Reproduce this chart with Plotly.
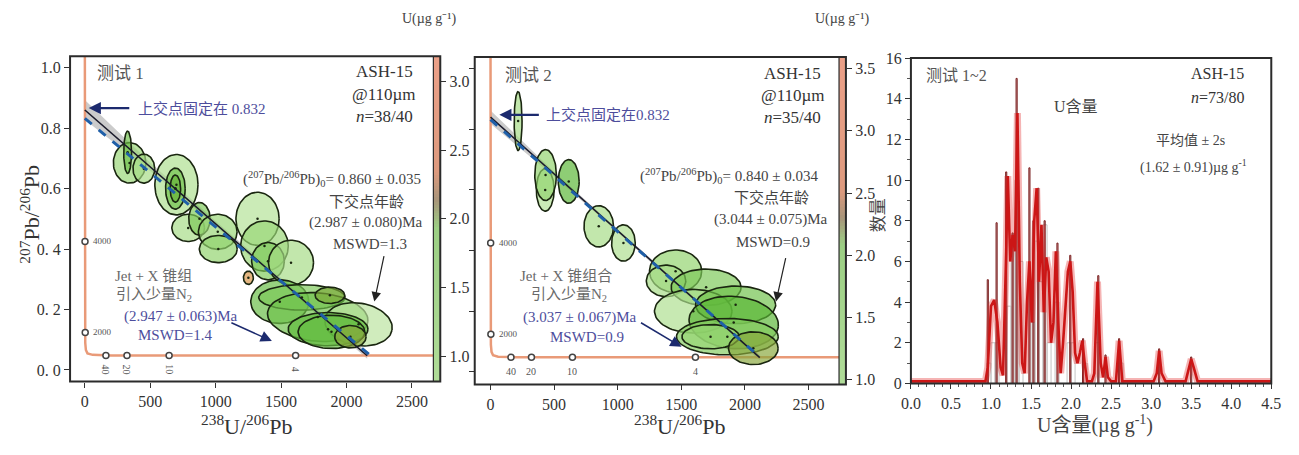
import numpy as np
import plotly.graph_objects as go
from plotly.colors import sample_colorscale

W, H = 1299, 455
def fx(p): return p / W
def fy(p): return 1 - p / H

SERIF = "Liberation Serif, 'Noto Sans CJK SC', serif"

# ---------------- data: test 1 (left panel) ----------------
t1_cx = [342, 327, 451, 700, 692, 692, 790, 876, 1016, 1020, 1320, 1373, 1400, 1576,
         1250, 1490, 1659, 1780, 2092, 1859, 1885, 1873, 2030]
t1_cy = [0.685, 0.72, 0.666, 0.613, 0.60, 0.60, 0.47, 0.50, 0.457, 0.40, 0.50, 0.41, 0.36, 0.355,
         0.305, 0.226, 0.24, 0.175, 0.151, 0.135, 0.126, 0.247, 0.11]
t1_rx = [124, 30, 83, 165, 75, 40, 125, 82, 148, 145, 165, 182, 125, 172,
         38, 222, 330, 385, 260, 305, 255, 113, 120]
t1_ry = [0.067, 0.07, 0.048, 0.10, 0.068, 0.045, 0.045, 0.054, 0.058, 0.045, 0.088, 0.083, 0.062, 0.074,
         0.022, 0.072, 0.042, 0.08, 0.07, 0.055, 0.055, 0.027, 0.037]
t1_ang = [0, 0, 0, 0, 0, 0, 0, 0, 0, 0, 0, 0, 0, 0,
          0, 0, 0, -5, -10, 0, 0, 0, 0]
t1_U = [1.3, 1.6, 1.2, 1.15, 1.6, 1.8, 1.2, 1.5, 1.3, 1.35, 1.1, 1.3, 1.5, 1.2,
        2.4, 1.65, 1.5, 1.6, 1.05, 1.7, 1.65, 1.9, 1.95]

# ---------------- data: test 2 (middle panel) ----------------
t2_cx = [217, 430, 433, 615, 851, 1045, 1455, 1380, 1695, 1594, 1927, 1912, 1862, 1730, 2066]
t2_cy = [0.827, 0.60, 0.649, 0.628, 0.48, 0.425, 0.332, 0.30, 0.279, 0.20, 0.221, 0.163, 0.116, 0.116, 0.078]
t2_rx = [31, 70, 85, 82, 116, 93, 205, 155, 275, 305, 315, 352, 400, 225, 195]
t2_ry = [0.097, 0.07, 0.084, 0.072, 0.068, 0.06, 0.07, 0.052, 0.06, 0.072, 0.062, 0.086, 0.06, 0.04, 0.054]
t2_ang = [0, 0, 0, 0, 0, 0, 0, 0, 0, 0, 0, -5, 0, 0, 0]
t2_U = [1.2, 1.1, 1.35, 1.75, 1.2, 1.15, 1.35, 1.2, 1.5, 1.15, 1.6, 1.75, 1.45, 1.3, 1.95]

# regression lines: (x0, x1), (y0, y1)
t1_free = ([0, 2158], [0.860, 0.047])
t1_fixed = ([0, 2187], [0.832, 0.0467])
t2_free = ([0, 2117], [0.840, 0.047])
t2_fixed = ([0, 2122], [0.832, 0.047])
t1_band_x = [0, 500, 1000, 2158, 2158, 1000, 500, 0]
t1_band_y = [0.893, 0.686, 0.493, 0.058, 0.037, 0.475, 0.658, 0.828]
t2_band_x = [0, 500, 1000, 2117, 2117, 1000, 500, 0]
t2_band_y = [0.862, 0.660, 0.470, 0.056, 0.038, 0.460, 0.644, 0.818]

# concordia (Tera-Wasserburg) trace and age markers
conc_x = [0, 0, 1, 3, 8, 20, 60, 200, 2800]
conc_y = [1.10, 0.25, 0.14, 0.09, 0.066, 0.055, 0.050, 0.048, 0.048]
age_top_lbl = ["4000", "2000"]
age_top_x = [1.2, 2.9]
age_top_y = [0.425, 0.124]
age_bot_lbl = ["40", "20", "10", "4"]
age_bot_x = [161, 322, 644, 1611]
age_bot_y = [0.048, 0.048, 0.048, 0.048]

# ---------------- data: U content histogram (right panel) ----------------
hist_x = [0.975, 1.025, 1.075, 1.225, 1.275, 1.325, 1.375, 1.525, 1.575, 1.625, 1.675, 1.725,
          1.825, 1.975, 2.025, 2.175, 2.325, 2.625]
hist_y = [1, 2, 2, 3.8, 7.3, 10, 6.0, 3, 7, 5, 7.8, 2, 4, 2, 2, 1, 2, 1]
spike_x = [0.96, 1.07, 1.19, 1.27, 1.32, 1.48, 1.53, 1.59, 1.67, 1.83, 1.99, 2.15, 2.34, 2.43, 2.60, 3.10, 3.50]
spike_y = [5.1, 7.9, 10.4, 7.4, 15.0, 10.6, 8.0, 9.6, 8.0, 6.9, 6.3, 2.2, 5.3, 1.4, 2.2, 1.7, 1.3]
kde_x = [0.00, 0.93, 0.96, 0.98, 1.00, 1.04, 1.08, 1.12, 1.15, 1.19,
         1.21, 1.24, 1.27, 1.30, 1.33, 1.36, 1.39, 1.42, 1.45, 1.48,
         1.51, 1.54, 1.57, 1.60, 1.63, 1.66, 1.69, 1.72, 1.75, 1.78,
         1.81, 1.84, 1.87, 1.90, 1.93, 1.96, 1.99, 2.02, 2.05, 2.08,
         2.11, 2.14, 2.17, 2.20, 2.26, 2.29, 2.33, 2.37, 2.40, 2.43,
         2.46, 2.50, 2.56, 2.60, 2.64, 2.70, 3.03, 3.07, 3.10, 3.13,
         3.18, 3.43, 3.47, 3.50, 3.53, 3.58, 4.50]
kde_y = [0.1, 0.1, 0.8, 2.5, 3.8, 4.1, 3.0, 0.8, 0.4, 6.5,
         10.2, 6.0, 7.3, 6.5, 13.3, 5.0, 1.0, 0.5, 4.0, 6.0,
         3.0, 8.0, 9.6, 5.0, 7.8, 3.5, 6.2, 5.5, 2.0, 3.0,
         6.5, 3.0, 0.5, 2.0, 4.0, 5.5, 6.0, 4.5, 1.5, 1.0,
         1.5, 2.1, 1.0, 0.1, 0.1, 0.5, 5.0, 1.0, 0.3, 1.3,
         0.3, 0.1, 0.1, 2.1, 0.1, 0.1, 0.1, 0.5, 1.6, 0.5,
         0.1, 0.1, 0.8, 1.2, 0.8, 0.1, 0.1]

# ---------------- geometry of panels (pixels) ----------------
P1 = dict(l=61, r=430, strip=437, t=50, b=388, xr=[-113, 2664], yr=[-0.0382, 1.0382], ur=[0.815, 3.185])
P2 = dict(l=472, r=842, strip=849, t=51, b=391, xr=[-124, 2740], yr=[-0.0413, 1.038], ur=[0.961, 3.593])
P3 = dict(l=915, r=1281, t=52, b=390)

ELL_SCALE = [[0, '#c0e6a6'], [0.25, '#8ed268'], [0.5, '#58b634'], [0.65, '#8ea43c'], [1, '#e89048']]

def ell_pts(cx, cy, rx, ry, ang, kx, ky, n=80):
    t = np.linspace(0, 2 * np.pi, n)
    a, b, th = rx * kx, ry * ky, np.radians(ang)
    X = a * np.cos(t) * np.cos(th) - b * np.sin(t) * np.sin(th)
    Y = a * np.cos(t) * np.sin(th) + b * np.sin(t) * np.cos(th)
    return cx + X / kx, cy + Y / ky

def rgba(c, a):
    c = c.replace('rgb(', '').replace(')', '')
    r, g, b = [int(float(v)) for v in c.split(',')]
    return f'rgba({r},{g},{b},{a})'

fig = go.Figure()

def add_concordia_panel(P, xa, ya, cx, cy, rx, ry, ang, U, free, fixed, bx, by):
    kx = (P['r'] - P['l']) / (P['xr'][1] - P['xr'][0])
    ky = (P['b'] - P['t']) / (P['yr'][1] - P['yr'][0])
    fig.add_trace(go.Scatter(x=bx, y=by, xaxis=xa, yaxis=ya, mode='lines', fill='toself',
                             fillcolor='rgba(190,190,190,0.8)', line=dict(width=0), hoverinfo='skip'))
    fig.add_trace(go.Scatter(x=conc_x, y=conc_y, xaxis=xa, yaxis=ya, mode='lines',
                             line=dict(color='#e99a78', width=2.5), hoverinfo='skip'))
    for i in range(len(cx)):
        ex, ey = ell_pts(cx[i], cy[i], rx[i], ry[i], ang[i], kx, ky)
        col = sample_colorscale(ELL_SCALE, [(U[i] - 1.0) / 1.5])[0]
        fig.add_trace(go.Scatter(x=ex, y=ey, xaxis=xa, yaxis=ya, mode='lines', fill='toself',
                                 fillcolor=rgba(col, 0.68), line=dict(color='#1a2610', width=1.6),
                                 hoverinfo='skip'))
    fig.add_trace(go.Scatter(x=cx, y=cy, xaxis=xa, yaxis=ya, mode='markers',
                             marker=dict(size=2.5, color='#1a2610'), hoverinfo='skip'))
    fig.add_trace(go.Scatter(x=free[0], y=free[1], xaxis=xa, yaxis=ya, mode='lines',
                             line=dict(color='#1a1a2a', width=1.6), hoverinfo='skip'))
    fig.add_trace(go.Scatter(x=fixed[0], y=fixed[1], xaxis=xa, yaxis=ya, mode='lines',
                             line=dict(color='#1f5fa8', width=3, dash='dash'), hoverinfo='skip'))
    fig.add_trace(go.Scatter(x=age_top_x + age_bot_x, y=age_top_y + age_bot_y, xaxis=xa, yaxis=ya,
                             mode='markers', marker=dict(size=6, color='white',
                                                         line=dict(color='#444', width=1.5)),
                             hoverinfo='skip'))

add_concordia_panel(P1, 'x', 'y', t1_cx, t1_cy, t1_rx, t1_ry, t1_ang, t1_U, t1_free, t1_fixed, t1_band_x, t1_band_y)
add_concordia_panel(P2, 'x2', 'y3', t2_cx, t2_cy, t2_rx, t2_ry, t2_ang, t2_U, t2_free, t2_fixed, t2_band_x, t2_band_y)

def add_strip(P, xa, ya, g_hi, o_lo):
    ys = list(np.linspace(P['ur'][0], P['ur'][1], 120))
    span = P['ur'][1] - P['ur'][0]
    a = (g_hi - P['ur'][0]) / span
    b = (o_lo - P['ur'][0]) / span
    scale = [[0, '#b0dc98'], [a, '#9ccf84'], [(a + b) / 2, '#a8957a'], [b, '#dd9a7e'], [1, '#eba088']]
    fig.add_trace(go.Heatmap(z=[[v] for v in ys], y=ys, x=[0], xaxis=xa, yaxis=ya,
                             colorscale=scale, zmin=P['ur'][0], zmax=P['ur'][1], showscale=False,
                             hoverinfo='skip'))

add_strip(P1, 'x4', 'y2', 1.93, 2.34)
add_strip(P2, 'x5', 'y4', 2.08, 2.52)

fig.add_trace(go.Bar(x=hist_x, y=hist_y, width=0.05, xaxis='x3', yaxis='y5',
                     marker=dict(color='rgba(255,255,255,0)', line=dict(color='#c4c4c4', width=1)),
                     hoverinfo='skip'))
fig.add_trace(go.Bar(x=spike_x, y=spike_y, width=0.014, xaxis='x3', yaxis='y5',
                     marker=dict(color='rgba(160,40,40,0.35)', line=dict(color='#7a2020', width=1)),
                     hoverinfo='skip'))
fig.add_trace(go.Scatter(x=kde_x, y=kde_y, xaxis='x3', yaxis='y5', mode='lines',
                         line=dict(color='rgba(225,40,40,0.35)', width=7), hoverinfo='skip'))
fig.add_trace(go.Scatter(x=kde_x, y=kde_y, xaxis='x3', yaxis='y5', mode='lines',
                         line=dict(color='#cc1616', width=2.6), hoverinfo='skip'))

tickfont = dict(family=SERIF, size=16, color='#333')
common = dict(showgrid=False, zeroline=False, showline=False, ticks='outside', ticklen=5,
              tickwidth=1.2, tickcolor='#333', tickfont=tickfont, fixedrange=True)

layout = dict(
    width=W, height=H, margin=dict(l=0, r=0, t=0, b=0), showlegend=False,
    paper_bgcolor='white', plot_bgcolor='rgba(0,0,0,0)',
    font=dict(family=SERIF, color='#333'), barmode='overlay',
    xaxis=dict(domain=[fx(P1['l']), fx(P1['r'])], range=P1['xr'], anchor='y',
               tickvals=[0, 500, 1000, 1500, 2000, 2500], **common),
    yaxis=dict(domain=[fy(P1['b']), fy(P1['t'])], range=P1['yr'], anchor='x',
               tickvals=[0, 0.2, 0.4, 0.6, 0.8, 1.0],
               ticktext=['0. 0', '0. 2', '0. 4', '0.6', '0.8', '1.0'], **common),
    xaxis4=dict(domain=[fx(P1['r']), fx(P1['strip'])], range=[-0.5, 0.5], anchor='y2', visible=False),
    yaxis2=dict(domain=[fy(P1['b']), fy(P1['t'])], range=P1['ur'], anchor='x4', side='right',
                tickvals=[1.0, 1.5, 2.0, 2.5, 3.0], ticktext=['1.0', '1.5', '2.0', '2.5', '3.0'], **common),
    xaxis2=dict(domain=[fx(P2['l']), fx(P2['r'])], range=P2['xr'], anchor='y3',
                tickvals=[0, 500, 1000, 1500, 2000, 2500], **common),
    yaxis3=dict(domain=[fy(P2['b']), fy(P2['t'])], range=P2['yr'], anchor='x2',
                tickvals=[0, 0.2, 0.4, 0.6, 0.8, 1.0], showticklabels=False, **common),
    xaxis5=dict(domain=[fx(P2['r']), fx(P2['strip'])], range=[-0.5, 0.5], anchor='y4', visible=False),
    yaxis4=dict(domain=[fy(P2['b']), fy(P2['t'])], range=P2['ur'], anchor='x5', side='right',
                tickvals=[1.0, 1.5, 2.0, 2.5, 3.0, 3.5],
                ticktext=['1.0', '1.5', '2.0', '2.5', '3.0', '3.5'], **common),
    xaxis3=dict(domain=[fx(P3['l']), fx(P3['r'])], range=[0, 4.5], anchor='y5',
                tickvals=[i * 0.5 for i in range(10)],
                ticktext=['0.0', '0.5', '1.0', '1.5', '2.0', '2.5', '3.0', '3.5', '4.0', '4.5'],
                minor=dict(ticks='outside', dtick=0.1, ticklen=3, tickcolor='#555'), **common),
    yaxis5=dict(domain=[fy(P3['b']), fy(P3['t'])], range=[0, 16], anchor='x3',
                tickvals=list(range(0, 17, 2)),
                minor=dict(ticks='outside', dtick=1, ticklen=3, tickcolor='#555'), **common),
)

shapes = []
for (l, r, t, b) in [(P1['l'], P1['strip'], P1['t'], P1['b']), (P2['l'], P2['strip'], P2['t'], P2['b']),
                     (P3['l'], P3['r'], P3['t'], P3['b'])]:
    shapes.append(dict(type='rect', xref='paper', yref='paper', x0=fx(l), x1=fx(r), y0=fy(b), y1=fy(t),
                       line=dict(color='#2b2b2b', width=2), fillcolor='rgba(0,0,0,0)', layer='above'))
for P in (P1, P2):
    shapes.append(dict(type='line', xref='paper', yref='paper', x0=fx(P['r']), x1=fx(P['r']),
                       y0=fy(P['b']), y1=fy(P['t']), line=dict(color='#2b2b2b', width=1.2), layer='above'))
layout['shapes'] = shapes

BLUE = '#4d4d9c'
NAVY = '#1c2a6e'
ann = []
def txt(x, y, s, size=15, color='#333', anchor='center', angle=0, vanchor='middle'):
    ann.append(dict(xref='paper', yref='paper', x=fx(x), y=fy(y), text=s, showarrow=False,
                    font=dict(family=SERIF, size=size, color=color), xanchor=anchor,
                    yanchor=vanchor, textangle=angle))
def arrow(hx, hy, tx, ty, color, width=1.5, head=2, size=1.3):
    ann.append(dict(xref='paper', yref='paper', x=fx(hx), y=fy(hy), ax=tx - hx, ay=ty - hy,
                    axref='pixel', ayref='pixel', text='', showarrow=True, arrowhead=head,
                    arrowsize=size, arrowwidth=width, arrowcolor=color))

# axis titles
txt(240, 433, '<sup>238</sup>U/<sup>206</sup>Pb', size=22, color='#333')
txt(680, 433, '<sup>238</sup>U/<sup>206</sup>Pb', size=22, color='#333')
txt(20, 214, '<sup>207</sup>Pb/<sup>206</sup>Pb', size=22, color='#333', angle=-90)
txt(426, 11, 'U(µg g⁻¹)', size=14, color='#444')
txt(846, 11, 'U(µg g⁻¹)', size=14, color='#444')
txt(1102, 433, 'U含量(µg g<sup>-1</sup>)', size=20, color='#444')
txt(883, 215, '数量', size=17, color='#444', angle=-90)

# left panel text
txt(86, 68, '测试 1', size=17, color='#555', anchor='left')
txt(380, 66, 'ASH-15', size=17, color='#333')
txt(380, 90, '@110µm', size=17, color='#333')
txt(380, 113, '<i>n</i>=38/40', size=17, color='#333')
txt(128, 104, '上交点固定在 0.832', size=15, color=BLUE, anchor='left')
arrow(80, 104, 122, 104, NAVY, width=2.2, head=2, size=1.1)
txt(327, 178, '(<sup>207</sup>Pb/<sup>206</sup>Pb)<sub>0</sub>= 0.860 ± 0.035', size=15, color='#444')
txt(362, 201, '下交点年龄', size=15, color='#444')
txt(362, 223, '(2.987 ± 0.080)Ma', size=15, color='#444')
txt(366, 245, 'MSWD=1.3', size=15, color='#444')
arrow(370, 305, 380, 258, '#222', width=1.2, head=2, size=1.6)
txt(146, 278, 'Jet + X 锥组', size=15, color='#6a6a6a')
txt(146, 298, '引入少量N<sub>2</sub>', size=15, color='#6a6a6a')
txt(174, 320, '(2.947 ± 0.063)Ma', size=15, color=BLUE)
txt(168, 340, 'MSWD=1.4', size=15, color=BLUE)
arrow(266, 346, 224, 327, NAVY, width=1.5, head=2, size=1.5)

# middle panel text
txt(501, 70, '测试 2', size=17, color='#555', anchor='left')
txt(795, 68, 'ASH-15', size=17, color='#333')
txt(795, 91, '@110µm', size=17, color='#333')
txt(795, 114, '<i>n</i>=35/40', size=17, color='#333')
txt(542, 111, '上交点固定在0.832', size=15, color=BLUE, anchor='left')
arrow(497, 111, 538, 111, NAVY, width=2.2, head=2, size=1.1)
txt(731, 175, '(<sup>207</sup>Pb/<sup>206</sup>Pb)<sub>0</sub>= 0.840 ± 0.034', size=15, color='#444')
txt(773, 197, '下交点年龄', size=15, color='#444')
txt(773, 220, '(3.044 ± 0.075)Ma', size=15, color='#444')
txt(775, 243, 'MSWD=0.9', size=15, color='#444')
arrow(778, 305, 788, 260, '#222', width=1.2, head=2, size=1.6)
txt(565, 278, 'Jet + X 锥组合', size=15, color='#6a6a6a')
txt(568, 298, '引入少量N<sub>2</sub>', size=15, color='#6a6a6a')
txt(579, 322, '(3.037 ± 0.067)Ma', size=15, color=BLUE)
txt(586, 342, 'MSWD=0.9', size=15, color=BLUE)
arrow(682, 352, 640, 327, NAVY, width=1.5, head=2, size=1.5)

# right panel text
txt(928, 70, '测试 1~2', size=16, color='#555', anchor='left')
txt(1083, 102, 'U含量', size=16, color='#444')
txt(1255, 68, 'ASH-15', size=16, color='#333', anchor='right')
txt(1255, 93, '<i>n</i>=73/80', size=16, color='#333', anchor='right')
txt(1199, 138, '平均值 ± 2s', size=14, color='#444')
txt(1202, 165, '(1.62 ± 0.91)µg g<sup>-1</sup>', size=14, color='#444')

# age labels on concordia
for xa, ya, rot in (('x', 'y', 90), ('x2', 'y3', 0)):
    for lbl, ax_, ay_ in zip(age_top_lbl, age_top_x, age_top_y):
        ann.append(dict(xref=xa, yref=ya, x=ax_, y=ay_, text=lbl, showarrow=False, xanchor='left',
                        xshift=6, font=dict(family=SERIF, size=9, color='#555')))
    for lbl, ax_, ay_ in zip(age_bot_lbl, age_bot_x, age_bot_y):
        ann.append(dict(xref=xa, yref=ya, x=ax_, y=ay_, text=lbl, showarrow=False, yshift=-14,
                        textangle=rot, font=dict(family=SERIF, size=10, color='#555')))

layout['annotations'] = ann
fig.update_layout(**layout)
fig.write_html('out.html')
